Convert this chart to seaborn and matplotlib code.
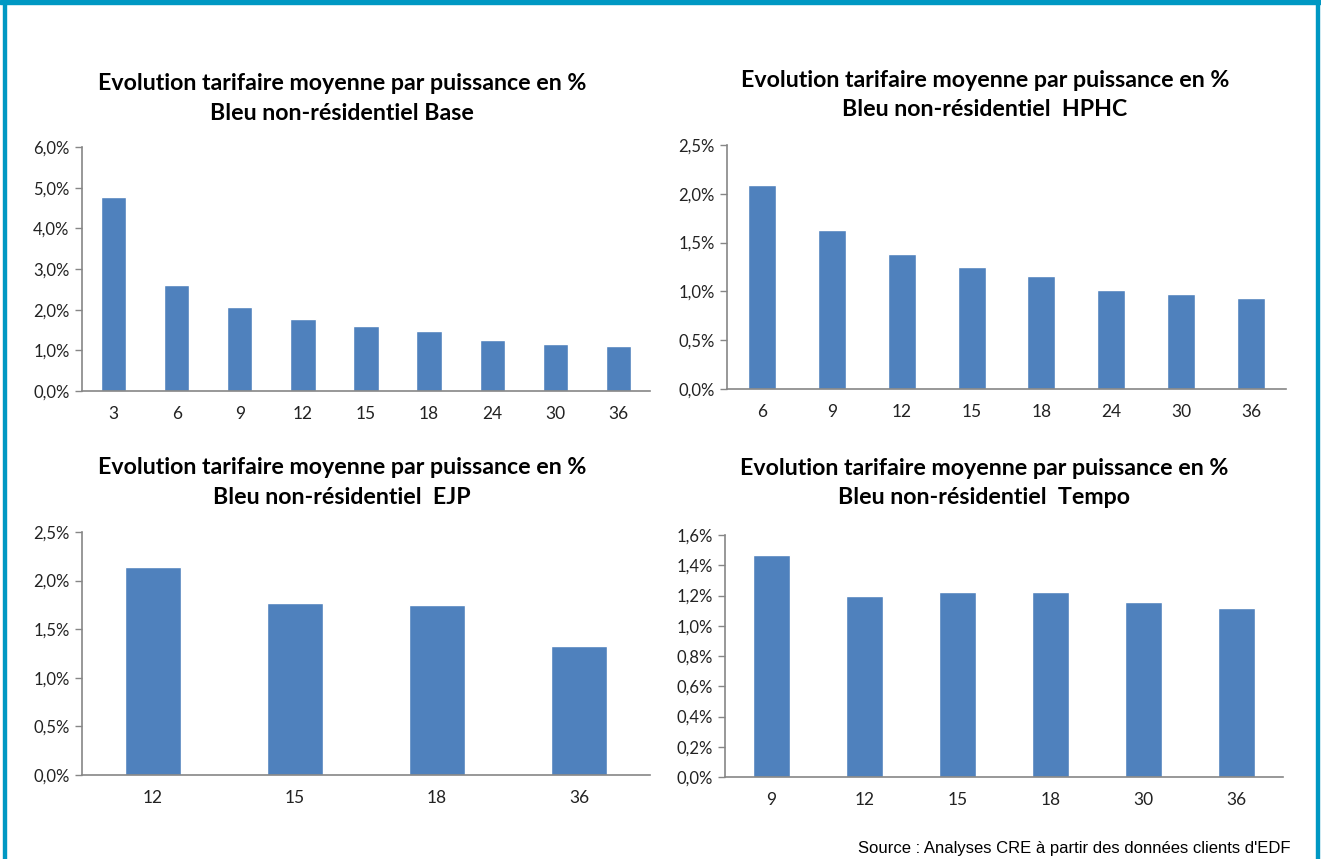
import matplotlib
matplotlib.use("Agg")
import matplotlib.pyplot as plt
import seaborn as sns
from matplotlib.ticker import FuncFormatter, MultipleLocator
from matplotlib.patches import Rectangle

# Donnees (evolution en %)
puissances_base = ["3", "6", "9", "12", "15", "18", "24", "30", "36"]
evol_base = [4.76, 2.61, 2.06, 1.77, 1.60, 1.47, 1.26, 1.15, 1.11]

puissances_hphc = ["6", "9", "12", "15", "18", "24", "30", "36"]
evol_hphc = [2.09, 1.63, 1.38, 1.25, 1.16, 1.01, 0.97, 0.935]

puissances_ejp = ["12", "15", "18", "36"]
evol_ejp = [2.14, 1.77, 1.75, 1.33]

puissances_tempo = ["9", "12", "15", "18", "30", "36"]
evol_tempo = [1.465, 1.195, 1.22, 1.22, 1.16, 1.12]

titres = [
    "Evolution tarifaire moyenne par puissance en %\nBleu non-résidentiel Base",
    "Evolution tarifaire moyenne par puissance en %\nBleu non-résidentiel  HPHC",
    "Evolution tarifaire moyenne par puissance en %\nBleu non-résidentiel  EJP",
    "Evolution tarifaire moyenne par puissance en %\nBleu non-résidentiel  Tempo",
]

sns.set_style("white")
plt.rcParams['font.family'] = ['Lato', 'DejaVu Sans']

bleu = "#4F81BD"
gris = "#868686"
cadre = "#0098C3"

fig = plt.figure(figsize=(13.21, 8.59), dpi=100)

# positions des axes [gauche, bas, largeur, hauteur] en fraction de figure
W, H = 1321, 859
def pos(x0, x1, ytop, ybot):
    return [x0 / W, (H - ybot) / H, (x1 - x0) / W, (ybot - ytop) / H]

panneaux = [
    (pos(82, 650, 147, 391), puissances_base, evol_base, 6.0, 1.0, 342, 87),
    (pos(727, 1286, 145, 389), puissances_hphc, evol_hphc, 2.5, 0.5, 985, 84),
    (pos(82, 650, 532, 775), puissances_ejp, evol_ejp, 2.5, 0.5, 342, 471),
    (pos(725, 1283, 535, 777), puissances_tempo, evol_tempo, 1.6, 0.2, 984, 472),
]

fmt = FuncFormatter(lambda v, p: f"{v:.1f}%".replace(".", ","))

for (rect, cats, vals, ymax, pas, tx, ty), titre in zip(panneaux, titres):
    ax = fig.add_axes(rect)
    sns.barplot(x=cats, y=vals, color=bleu, saturation=1, width=0.4, ax=ax)
    ax.set_ylim(0, ymax)
    ax.set_xlim(-0.5, len(cats) - 0.5)
    ax.yaxis.set_major_locator(MultipleLocator(pas))
    ax.yaxis.set_major_formatter(fmt)
    # graduations de l'axe des categories entre les barres (style Excel)
    ax.set_xticks([i - 0.5 for i in range(len(cats) + 1)], minor=True)
    ax.set_xticks(range(len(cats)))
    ax.set_xticklabels(cats)
    ax.tick_params(axis="x", which="major", length=0, pad=11, labelsize=12.5, labelcolor="#222222")
    ax.tick_params(axis="x", which="minor", length=5, width=1, color=gris, direction="out")
    ax.tick_params(axis="y", length=5, width=1, color=gris, direction="out", pad=4,
                   labelsize=12, labelcolor="#222222", left=True)
    for s in ["top", "right"]:
        ax.spines[s].set_visible(False)
    for s in ["left", "bottom"]:
        ax.spines[s].set_color(gris)
        ax.spines[s].set_linewidth(1.2)
    ax.set_xlabel("")
    ax.set_ylabel("")
    fig.text(tx / W, 1 - (ty - 14) / H, titre, ha="center", va="top", fontsize=16.7,
             fontweight="bold", linespacing=1.5, color="#000000")

fig.text(1290 / W, 1 - 848 / H, "Source : Analyses CRE à partir des données clients d'EDF",
         ha="right", va="center", fontsize=12, family=["Liberation Sans", "DejaVu Sans"],
         color="#000000")

# cadre bleu autour de l'encadre
fig.patches.append(Rectangle((0, 1 - 4 / H), 1, 4 / H, transform=fig.transFigure,
                             color=cadre, zorder=5))
fig.patches.append(Rectangle((3 / W, 0), 2.5 / W, 1, transform=fig.transFigure,
                             color=cadre, zorder=5))
fig.patches.append(Rectangle((1316 / W, 0), 2.5 / W, 1, transform=fig.transFigure,
                             color=cadre, zorder=5))

fig.savefig("out.png", dpi=100)
